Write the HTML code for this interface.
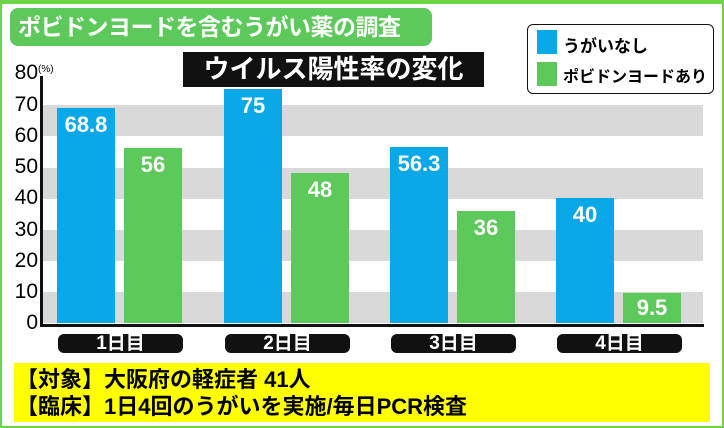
<!DOCTYPE html><html><head><meta charset="utf-8"><style>
body{margin:0;width:724px;height:428px;overflow:hidden;background:#fff;font-family:"Liberation Sans","Noto Sans CJK JP",sans-serif;position:relative}
.a{position:absolute}
.band{position:absolute;left:42px;width:661px;height:31px;background:#d9d9d9}
.bar{position:absolute;width:58px;bottom:105px;color:#fff;font-weight:bold;font-size:22px;text-align:center;padding-top:4px;box-sizing:border-box}
.b{background:#0aa8e6}.g{background:#5cc95a}
.yl{position:absolute;left:6px;width:32px;text-align:right;font-size:21px;line-height:20px}
.cat{position:absolute;top:334px;width:125px;height:19px;background:#111;border-radius:6px;color:#fff;font-weight:bold;font-size:19px;text-align:center;line-height:19px}
</style></head><body>
<div class="a" style="left:0;top:0;width:720px;height:424px;border:2px solid #6dd44a"></div>
<div class="a" style="left:0;top:0;width:724px;height:4px;background:#6dd44a"></div>
<div class="a" style="left:10px;top:8px;width:422px;height:38px;background:#5cc95a;border-radius:8px;color:#fff;font-weight:bold;font-size:23px;letter-spacing:-0.5px;line-height:38px;padding-left:8px;box-sizing:border-box;white-space:nowrap">ポビドンヨードを含むうがい薬の調査</div>
<div class="a" style="left:183px;top:52px;width:301px;height:35px;background:#111;color:#fff;font-weight:bold;font-size:26px;line-height:35px;text-align:center;white-space:nowrap">ウイルス陽性率の変化</div>
<div class="a" style="left:527px;top:24px;width:187px;height:70px;border:1.5px solid #111;border-radius:6px;box-sizing:border-box;background:#fff"></div>
<div class="a b" style="left:537px;top:30px;width:20px;height:24px"></div>
<div class="a" style="left:563px;top:32px;font-size:17px;font-weight:bold">うがいなし</div>
<div class="a g" style="left:537px;top:62px;width:20px;height:24px"></div>
<div class="a" style="left:563px;top:63px;font-size:16px;font-weight:bold">ポビドンヨードあり</div>
<div class="band" style="top:105px"></div><div class="band" style="top:168px"></div><div class="band" style="top:230px"></div><div class="band" style="top:292px"></div>
<div class="a" style="left:40px;top:76px;width:3px;height:251px;background:#111"></div>
<div class="a" style="left:40px;top:324px;width:664px;height:3px;background:#111"></div>
<div class="yl" style="top:63px">80</div><div class="a" style="left:38px;top:64px;font-size:10px">(%)</div>
<div class="yl" style="top:95px">70</div><div class="yl" style="top:126px">60</div><div class="yl" style="top:157px">50</div><div class="yl" style="top:188px">40</div><div class="yl" style="top:220px">30</div><div class="yl" style="top:251px">20</div><div class="yl" style="top:282px">10</div><div class="yl" style="top:313px">0</div>
<div class="bar b" style="left:57px;height:215px">68.8</div>
<div class="bar g" style="left:124px;height:175px">56</div>
<div class="bar b" style="left:224px;height:234px">75</div>
<div class="bar g" style="left:291px;height:150px">48</div>
<div class="bar b" style="left:390px;height:176px">56.3</div>
<div class="bar g" style="left:457px;height:112px">36</div>
<div class="bar b" style="left:556px;height:125px">40</div>
<div class="bar g" style="left:623px;height:30px;padding-top:2px">9.5</div>
<div class="cat" style="left:58px">1日目</div><div class="cat" style="left:225px">2日目</div><div class="cat" style="left:391px">3日目</div><div class="cat" style="left:557px">4日目</div>
<div class="a" style="left:14px;top:363px;width:696px;height:59px;background:#ffff00;font-weight:bold;font-size:22px;line-height:27px;padding:3px 0 0 2px;box-sizing:border-box;white-space:nowrap">【対象】大阪府の軽症者 41人<br>【臨床】1日4回のうがいを実施/毎日PCR検査</div>
</body></html>
